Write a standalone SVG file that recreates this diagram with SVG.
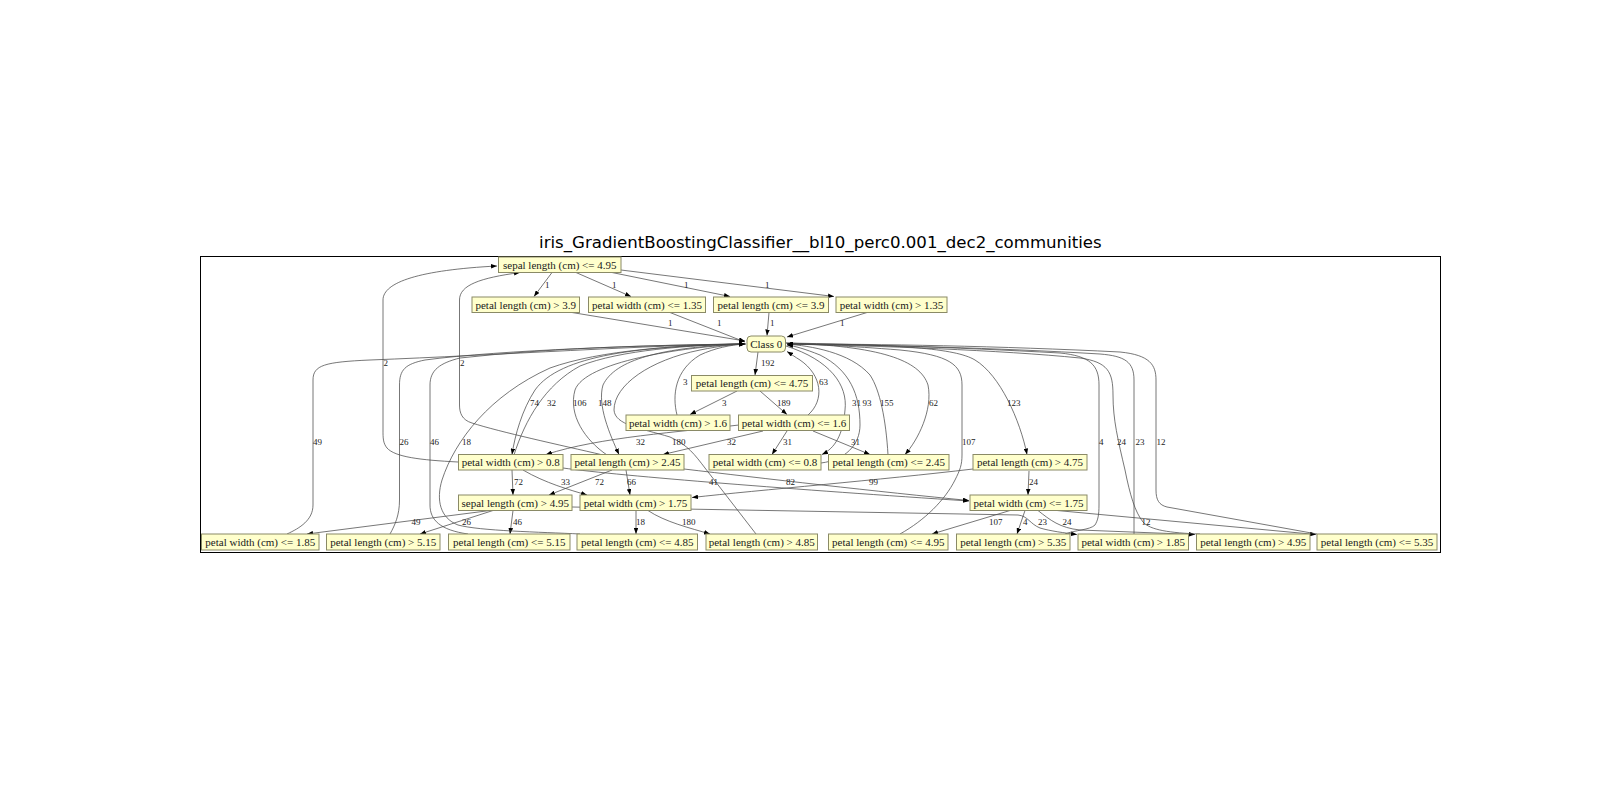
<svg xmlns="http://www.w3.org/2000/svg" width="1600" height="800" viewBox="0 0 1600 800">
  <defs>
    <marker id="arrow" markerUnits="userSpaceOnUse" markerWidth="6" markerHeight="4.6" refX="6" refY="2.3" orient="auto">
      <path d="M0,0 L6,2.3 L0,4.6 z" fill="#000"/>
    </marker>
    <style>
      .node rect { fill: #ffffcc; stroke: #8a8a66; stroke-width: 1; }
      .node text { font-family: "Liberation Serif", "Times New Roman", serif; font-size: 11px; fill: #1a1a1a; text-anchor: middle; }
      .edges path { fill: none; stroke: #4a4a4a; stroke-width: 0.75; marker-end: url(#arrow); }
      .elabel { font-family: "Liberation Serif", "Times New Roman", serif; font-size: 9px; fill: #222; }
      .title { font-family: "DejaVu Sans", sans-serif; font-size: 16.6px; fill: #000; text-anchor: middle; }
    </style>
  </defs>
  <rect width="1600" height="800" fill="#fff"/>
  <text class="title" x="820.4" y="247.5">iris_GradientBoostingClassifier__bl10_perc0.001_dec2_communities</text>
  <rect x="200.5" y="256.5" width="1240" height="296" fill="none" stroke="#000" stroke-width="1"/>

  <!-- connectors -->
  <g id="edges" class="edges">
    <!-- root split -->
    <path d="M552,272.5 L534,296.5"/>
    <path d="M576,272.5 L631,296.5"/>
    <path d="M612,272.5 L730,296.5"/>
    <path d="M621,270 L834,296.5"/>
    <!-- second row into Class 0 -->
    <path d="M572,312.5 L745,341"/>
    <path d="M670,312.5 L745,342"/>
    <path d="M769,312.5 L767,335.5"/>
    <path d="M867,312.5 L787,337"/>
    <!-- Class 0 downward chain -->
    <path d="M758,352 L755,375"/>
    <path d="M737,391 L690,414.5"/>
    <path d="M760,391 L787,414.5"/>
    <path d="M677,415 C672,395 675,370 700,355 C715,348 730,345 745,344"/>
    <path d="M808,415 C825,400 822,375 800,360 C795,357 791,354 787,351.5"/>
    <path d="M739,425 C680,432 600,437 546,454.5"/>
    <path d="M763,431 L663,454.5"/>
    <path d="M787,431 L772,454.5"/>
    <path d="M813,431 L870,454.5"/>
    <!-- loops between Class 0 and the fifth row -->
    <path d="M746,344 C640,346 560,355 535,390 C522,410 515,435 512,454.5"/>
    <path d="M514,455 C525,420 545,385 580,366 C620,350 690,345 745,344"/>
    <path d="M746,344 C660,347 615,360 603,385 C597,405 610,435 619,454.5"/>
    <path d="M607,455 C585,440 568,415 575,390 C585,362 680,347 745,344"/>
    <path d="M786,346 C830,360 848,385 845,410 C843,435 835,448 822,454.5"/>
    <path d="M821,463 C845,460 860,445 860,425 C860,395 850,370 820,355 C805,349 795,346 787,345"/>
    <path d="M786,343 C880,346 920,360 928,385 C933,410 918,440 905,454.5"/>
    <path d="M888,455 C886,420 880,390 870,375 C850,352 810,346 787,344"/>
    <path d="M786,343 C900,345 955,348 975,360 C1000,375 1020,420 1027,454.5"/>
    <!-- back to the root -->
    <path d="M603,455 C560,445 500,432 472,423 C462,420 459.5,413 459.5,405 L459.5,300 C459.5,285 480,278 520,272.5"/>
    <path d="M458,462 C420,460 395,457 387,448 C383,443 383,438 383,430 L383,300 C383,282 420,270 497,266"/>
    <!-- fifth row to sixth row -->
    <path d="M1029,471 L1028,495"/>
    <path d="M973,469 C880,480 760,490 692,497.5"/>
    <path d="M512,470 L513,495"/>
    <path d="M523,470 C545,483 570,490 587,495"/>
    <path d="M563,468 C620,476 800,490 969,501"/>
    <path d="M684,469 C760,478 880,492 969,500.5"/>
    <path d="M612,470 L549,495"/>
    <path d="M626,470 L630,495"/>
    <!-- sixth row to leaves -->
    <path d="M490,510.5 L307,534"/>
    <path d="M493,510.5 L420,534"/>
    <path d="M513,510.5 L510,534"/>
    <path d="M572,507 L1018,515 C1028,516 1030,524 1040,528 C1050,531 1065,533 1077,534.5"/>
    <path d="M636,510.5 L636,534"/>
    <path d="M648,510.5 C665,522 690,528 710,534"/>
    <path d="M1010,510.5 L932,534"/>
    <path d="M1025,510.5 L1017,534"/>
    <path d="M1038,510.5 C1050,520 1060,528 1080,530 L1195,534.5"/>
    <path d="M1057,510.5 L1316,534.5"/>
    <!-- leaves back to Class 0 -->
    <path d="M287,534 C300,528 313,520 313,505 L313,380 C313,365 325,362 370,360 C500,355 650,345 745,344"/>
    <path d="M390,534 C395,525 399.5,515 399.5,500 L399.5,385 C399.5,370 405,364 425,360 C500,350 650,345 745,344"/>
    <path d="M468,534 C440,530 430,520 430,505 L430,385 C430,370 440,363 460,358 C550,348 650,345 745,344"/>
    <path d="M580,534 C540,532 480,531 458,525 C440,518 436,500 442,480 C455,440 490,395 550,368 C600,350 680,345 745,344"/>
    <path d="M756,534 L705,468 C695,455 688,445 670,437 C640,428 615,425 614,410 C614,385 650,360 700,350 C720,346 735,344 745,344"/>
    <path d="M900,534 C925,520 945,500 955,480 C960,470 962,465 962,455 L962,385 C962,365 950,355 900,350 C850,346 810,344 787,344"/>
    <path d="M1065,534 C1075,530 1090,530 1095,525 C1098,520 1099,515 1099,505 L1099,385 C1099,365 1090,356 1060,353 C950,347 850,344 787,344"/>
    <path d="M1134,534 L1134,380 C1134,362 1125,356 1100,354 C1000,348 880,345 787,344"/>
    <path d="M1200,534 C1170,533 1150,530 1143,522 C1135,512 1130,495 1125,470 C1118,440 1113,420 1113,395 C1113,372 1108,362 1080,358 C1000,350 880,346 787,344"/>
    <path d="M1317,534 L1167,507 C1159,505 1156,500 1156,490 L1156,380 C1156,365 1150,355 1120,352 C1000,346 880,344 787,344"/>
  </g>

  <!-- connector labels -->
  <g id="edge-labels" class="elabel">
    <text x="545" y="287.5">1</text>
    <text x="612" y="287.5">1</text>
    <text x="684" y="287.5">1</text>
    <text x="765" y="287.5">1</text>
    <text x="668" y="326.3">1</text>
    <text x="717" y="326.3">1</text>
    <text x="770" y="326.3">1</text>
    <text x="840" y="326.3">1</text>
    <text x="761" y="366.3">192</text>
    <text x="683" y="385.3">3</text>
    <text x="819" y="385.3">63</text>
    <text x="722" y="406.3">3</text>
    <text x="777" y="406.3">189</text>
    <text x="530" y="406.3">74</text>
    <text x="547" y="406.3">32</text>
    <text x="573" y="406.3">106</text>
    <text x="598" y="406.3">148</text>
    <text x="852" y="406.3">31</text>
    <text x="862.5" y="406.3">93</text>
    <text x="880" y="406.3">155</text>
    <text x="929" y="406.3">62</text>
    <text x="1007" y="406.3">123</text>
    <text x="383.5" y="366.3">2</text>
    <text x="460" y="366.3">2</text>
    <text x="636" y="445.3">32</text>
    <text x="672" y="445.3">180</text>
    <text x="727" y="445.3">32</text>
    <text x="783" y="445.3">31</text>
    <text x="851" y="445.3">31</text>
    <text x="313" y="445.3">49</text>
    <text x="399.5" y="445.3">26</text>
    <text x="430" y="445.3">46</text>
    <text x="462" y="445.3">18</text>
    <text x="962" y="445.3">107</text>
    <text x="1099" y="445.3">4</text>
    <text x="1117" y="445.3">24</text>
    <text x="1135.5" y="445.3">23</text>
    <text x="1156.5" y="445.3">12</text>
    <text x="514" y="485">72</text>
    <text x="561" y="485">33</text>
    <text x="595" y="485">72</text>
    <text x="627" y="485">66</text>
    <text x="709" y="485">41</text>
    <text x="786" y="485">82</text>
    <text x="869" y="485">99</text>
    <text x="1029" y="485">24</text>
    <text x="411.5" y="525">49</text>
    <text x="462" y="525">26</text>
    <text x="513" y="525">46</text>
    <text x="636" y="525">18</text>
    <text x="682" y="525">180</text>
    <text x="989" y="525">107</text>
    <text x="1023" y="525">4</text>
    <text x="1038" y="525">23</text>
    <text x="1062.5" y="525">24</text>
    <text x="1141.5" y="525">12</text>
  </g>

  <!-- nodes -->
  <g id="n_root" class="node"><rect x="498.5" y="257" width="122.5" height="15.5"/><text x="559.75" y="268.5">sepal length (cm) &lt;= 4.95</text></g>
  <g id="n_pl_gt_3_9" class="node"><rect x="472" y="297" width="107.5" height="15.5"/><text x="525.75" y="308.5">petal length (cm) &gt; 3.9</text></g>
  <g id="n_pw_le_1_35" class="node"><rect x="588.5" y="297" width="117" height="15.5"/><text x="647" y="308.5">petal width (cm) &lt;= 1.35</text></g>
  <g id="n_pl_le_3_9" class="node"><rect x="713.5" y="297" width="115" height="15.5"/><text x="771" y="308.5">petal length (cm) &lt;= 3.9</text></g>
  <g id="n_pw_gt_1_35" class="node"><rect x="836" y="297" width="111" height="15.5"/><text x="891.5" y="308.5">petal width (cm) &gt; 1.35</text></g>
  <g id="n_class0" class="node"><rect x="747" y="336" width="38.5" height="16" rx="4" ry="4"/><text x="766.25" y="347.8">Class 0</text></g>
  <g id="n_pl_le_4_75" class="node"><rect x="691.5" y="375.5" width="121" height="15.5"/><text x="752" y="387">petal length (cm) &lt;= 4.75</text></g>
  <g id="n_pw_gt_1_6" class="node"><rect x="626" y="415" width="104" height="15.5"/><text x="678" y="426.5">petal width (cm) &gt; 1.6</text></g>
  <g id="n_pw_le_1_6" class="node"><rect x="738.5" y="415" width="111" height="15.5"/><text x="794" y="426.5">petal width (cm) &lt;= 1.6</text></g>
  <g id="n_pw_gt_0_8" class="node"><rect x="458.5" y="454.5" width="104.5" height="15.5"/><text x="510.75" y="466">petal width (cm) &gt; 0.8</text></g>
  <g id="n_pl_gt_2_45" class="node"><rect x="571" y="454.5" width="113" height="15.5"/><text x="627.5" y="466">petal length (cm) &gt; 2.45</text></g>
  <g id="n_pw_le_0_8" class="node"><rect x="709" y="454.5" width="112" height="15.5"/><text x="765" y="466">petal width (cm) &lt;= 0.8</text></g>
  <g id="n_pl_le_2_45" class="node"><rect x="828.5" y="454.5" width="120.5" height="15.5"/><text x="888.75" y="466">petal length (cm) &lt;= 2.45</text></g>
  <g id="n_pl_gt_4_75" class="node"><rect x="973" y="454.5" width="114" height="15.5"/><text x="1030" y="466">petal length (cm) &gt; 4.75</text></g>
  <g id="n_sl_gt_4_95" class="node"><rect x="458.5" y="495" width="113.5" height="15.5"/><text x="515.25" y="506.5">sepal length (cm) &gt; 4.95</text></g>
  <g id="n_pw_gt_1_75" class="node"><rect x="580" y="495" width="111" height="15.5"/><text x="635.5" y="506.5">petal width (cm) &gt; 1.75</text></g>
  <g id="n_pw_le_1_75" class="node"><rect x="970" y="495" width="117" height="15.5"/><text x="1028.5" y="506.5">petal width (cm) &lt;= 1.75</text></g>
  <g id="n_pw_le_1_85" class="node"><rect x="201.5" y="534" width="117.5" height="16"/><text x="260.25" y="545.8">petal width (cm) &lt;= 1.85</text></g>
  <g id="n_pl_gt_5_15" class="node"><rect x="326.5" y="534" width="113.5" height="16"/><text x="383.25" y="545.8">petal length (cm) &gt; 5.15</text></g>
  <g id="n_pl_le_5_15" class="node"><rect x="448.5" y="534" width="121.5" height="16"/><text x="509.25" y="545.8">petal length (cm) &lt;= 5.15</text></g>
  <g id="n_pl_le_4_85" class="node"><rect x="577" y="534" width="120.5" height="16"/><text x="637.25" y="545.8">petal length (cm) &lt;= 4.85</text></g>
  <g id="n_pl_gt_4_85" class="node"><rect x="706" y="534" width="111.5" height="16"/><text x="761.75" y="545.8">petal length (cm) &gt; 4.85</text></g>
  <g id="n_pl_le_4_95" class="node"><rect x="828.5" y="534" width="119.5" height="16"/><text x="888.25" y="545.8">petal length (cm) &lt;= 4.95</text></g>
  <g id="n_pl_gt_5_35" class="node"><rect x="956.5" y="534" width="113.5" height="16"/><text x="1013.25" y="545.8">petal length (cm) &gt; 5.35</text></g>
  <g id="n_pw_gt_1_85" class="node"><rect x="1078" y="534" width="110.5" height="16"/><text x="1133.25" y="545.8">petal width (cm) &gt; 1.85</text></g>
  <g id="n_pl_gt_4_95" class="node"><rect x="1196.5" y="534" width="113.5" height="16"/><text x="1253.25" y="545.8">petal length (cm) &gt; 4.95</text></g>
  <g id="n_pl_le_5_35" class="node"><rect x="1317" y="534" width="120" height="16"/><text x="1377" y="545.8">petal length (cm) &lt;= 5.35</text></g>
</svg>
